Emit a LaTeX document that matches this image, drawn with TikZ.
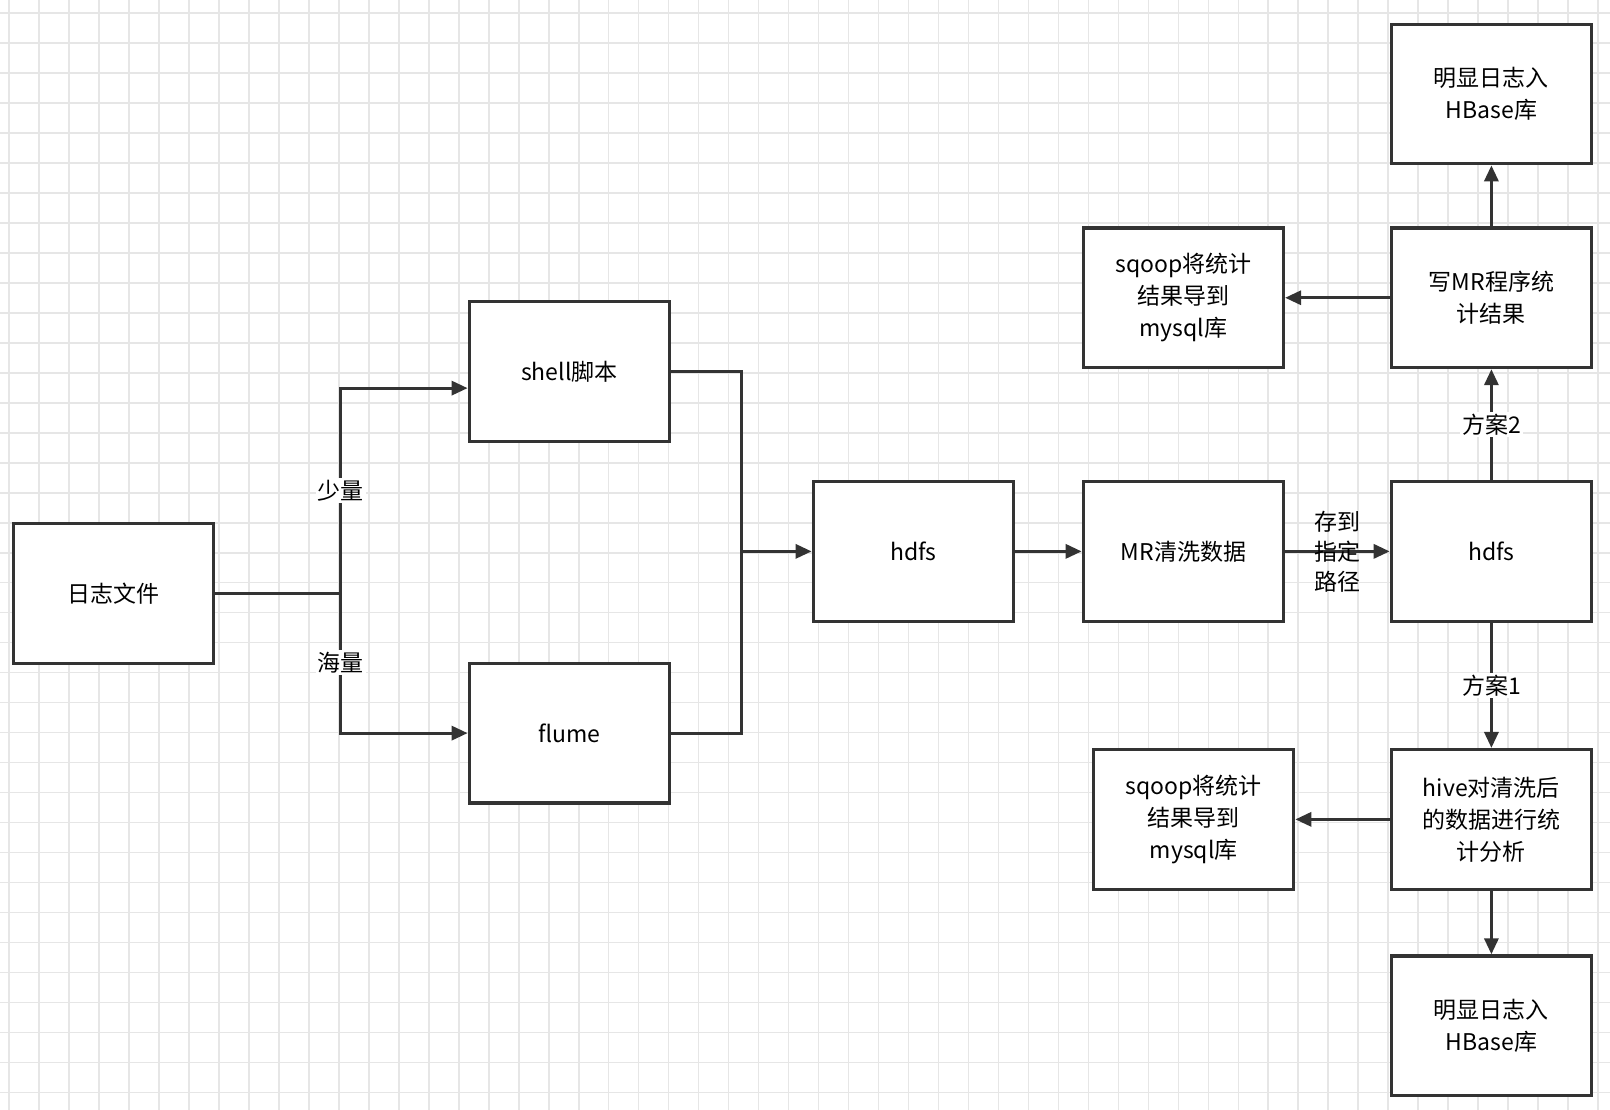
\documentclass[tikz,border=0pt]{standalone}
\usepackage{fontspec}
\setmainfont{Liberation Sans}
\newfontfamily\cjk{Noto Sans CJK SC}
\usetikzlibrary{arrows.meta}
\definecolor{ln}{HTML}{333333}
\definecolor{gr}{HTML}{E6E6E6}
\begin{document}
\begin{tikzpicture}[x=0.5135pt,y=-0.5135pt,
  box/.style={draw=ln,line width=1.6pt,fill=white,minimum width=195*0.5135pt,minimum height=136*0.5135pt,align=center,inner sep=0pt,font=\cjk\fontsize{11.5}{16}\selectfont},
  ar/.style={draw=ln,line width=1.6pt,-{Triangle[length=8pt,width=7pt]}},
  ln/.style={draw=ln,line width=1.6pt},
  lab/.style={fill=white,inner sep=1pt,align=center,font=\cjk\fontsize{11.5}{16}\selectfont}]
\useasboundingbox (0,0) rectangle (1568,1081);
\fill[white] (0,0) rectangle (1568,1081);
\foreach \i in {0,...,54} \draw[gr,line width=0.8pt] (8.8+29.2*\i,0) -- (8.8+29.2*\i,1081);
\foreach \i in {0,...,37} \draw[gr,line width=0.8pt] (0,12.7+29.2*\i) -- (1568,12.7+29.2*\i);
\node[box] (log) at (110.5,578) {日志文件};
\node[box] (sh) at (554.5,362) {shell脚本};
\node[box] (fl) at (554.5,714) {flume};
\node[box] (h1) at (889.5,537) {hdfs};
\node[box] (mr) at (1152.5,537) {MR清洗数据};
\node[box] (h2) at (1452.5,537) {hdfs};
\node[box] (wmr) at (1452.5,290) {写MR程序统\\计结果};
\node[box] (hbt) at (1452.5,91.5) {明显日志入\\HBase库};
\node[box] (sqt) at (1152.5,290) {sqoop将统计\\结果导到\\mysql库};
\node[box] (hive) at (1452.5,798) {hive对清洗后\\的数据进行统\\计分析};
\node[box] (sqb) at (1162.5,798) {sqoop将统计\\结果导到\\mysql库};
\node[box] (hbb) at (1452.5,999) {明显日志入\\HBase库};
\coordinate (j) at (332,578);
\draw[ln] (log.east) -- (j);
\draw[ar] (j) -- (332,378) -- (sh.west |- 0,378);
\draw[ar] (j) -- (fl.west -| 332,0) -- (fl.west);
\node[lab] at (332,478) {少量};
\node[lab] at (332,645) {海量};
\draw[ln] (sh.east) -- (722,362) -- (722,714) -- (fl.east);
\draw[ar] (722,537) -- (h1.west);
\draw[ar] (h1) -- (mr);
\draw[ar] (mr) -- (h2) node[midway,lab,fill=none,font=\cjk\fontsize{11.5}{15}\selectfont] {存到\\指定\\路径};
\draw[ar] (h2) -- (wmr) node[midway,lab] {方案2};
\draw[ar] (wmr) -- (hbt);
\draw[ar] (wmr) -- (sqt);
\draw[ar] (h2) -- (hive) node[midway,lab] {方案1};
\draw[ar] (hive) -- (sqb);
\draw[ar] (hive) -- (hbb);
\end{tikzpicture}
\end{document}
